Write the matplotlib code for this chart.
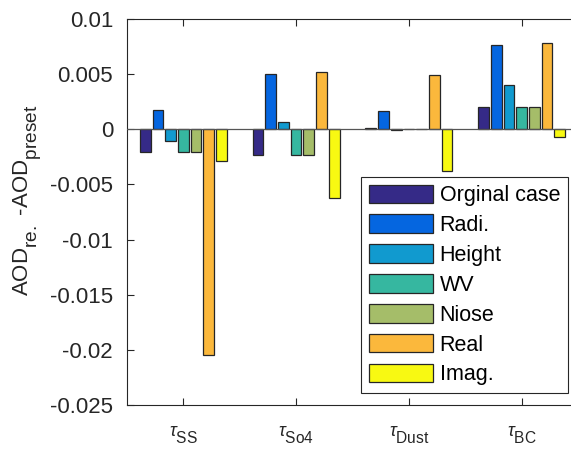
import matplotlib
matplotlib.use('Agg')
import matplotlib.pyplot as plt
import matplotlib._mathtext as mathtext_internals
import numpy as np
from matplotlib.ticker import FuncFormatter

plt.rcParams['font.family'] = ['Liberation Sans', 'DejaVu Sans']
plt.rcParams['mathtext.fontset'] = 'custom'
plt.rcParams['mathtext.rm'] = 'Liberation Sans'
plt.rcParams['mathtext.it'] = 'Liberation Sans:italic'
plt.rcParams['mathtext.default'] = 'rm'
# larger, lower subscripts than the mathtext defaults
mathtext_internals.SHRINK_FACTOR = 0.86
mathtext_internals.FontConstantsBase.sub1 = 0.75

groups = [r'$\mathit{\tau}_{SS}$', r'$\mathit{\tau}_{So4}$',
          r'$\mathit{\tau}_{Dust}$', r'$\mathit{\tau}_{BC}$']
cases = ['Orginal case', 'Radi.', 'Height', 'WV', 'Niose', 'Real', 'Imag.']
colors = ['#352a87', '#0566e0', '#119acf', '#36b7a0', '#a5bd69', '#fbb83c', '#f8f912']

# rows: cases, columns: SS, So4, Dust, BC
diff = np.array([
    [-0.0021, -0.0023, 0.0001, 0.00205],
    [0.00175, 0.0050, 0.00163, 0.0076],
    [-0.00103, 0.00066, -0.0001, 0.0040],
    [-0.0021, -0.0023, 0.00005, 0.00205],
    [-0.0021, -0.0023, 0.00005, 0.00205],
    [-0.0205, 0.0052, 0.00495, 0.0078],
    [-0.00285, -0.0062, -0.0038, -0.00067],
])

yticks = [0.01, 0.005, 0, -0.005, -0.01, -0.015, -0.02, -0.025]

fig = plt.figure(figsize=(5.71, 4.5), dpi=100)
# axes runs past the right edge of the figure
ax = fig.add_axes([127 / 571, 45 / 450, 451 / 571, 386 / 450])

x = np.arange(1, len(groups) + 1)
pitch = 0.1126
width = 0.095
for i, (name, c) in enumerate(zip(cases, colors)):
    ax.bar(x + (i - 3) * pitch, diff[i], width=width, color=c,
           edgecolor='#262626', linewidth=0.9, label=name, zorder=3)

ax.axhline(0, color='#555555', linewidth=0.9, zorder=4)

ax.set_xlim(0.5, 4.5)
ax.set_ylim(-0.025, 0.01)
ax.set_xticks(x)
ax.set_xticklabels(groups, fontsize=13)
ax.set_yticks(yticks)
ax.yaxis.set_major_formatter(FuncFormatter(lambda v, p: '%g' % v))
ax.tick_params(axis='y', labelsize=16)
ax.tick_params(direction='in', top=True, right=True, colors='#262626',
               length=5, width=0.8, pad=10)
ax.tick_params(axis='x', pad=14)
for s in ax.spines.values():
    s.set_color('#262626')
    s.set_linewidth(0.8)

ax.set_ylabel(r'AOD$_{re.}$ -AOD$_{preset}$', fontsize=16, color='#262626')
ax.yaxis.set_label_coords(-0.187, 0.53)

leg = ax.legend(loc='lower left', bbox_to_anchor=(361 / 571, 1 - 393 / 450),
                bbox_transform=fig.transFigure, fontsize=15.5, frameon=True,
                fancybox=False, edgecolor='#262626', framealpha=1,
                handlelength=3.0, handleheight=0.95, handletextpad=0.3,
                labelspacing=0.38, borderpad=0.35, borderaxespad=0)
leg.get_frame().set_linewidth(0.8)
for h in leg.legend_handles:
    h.set_edgecolor('#262626')

fig.savefig('out.png', dpi=100)
